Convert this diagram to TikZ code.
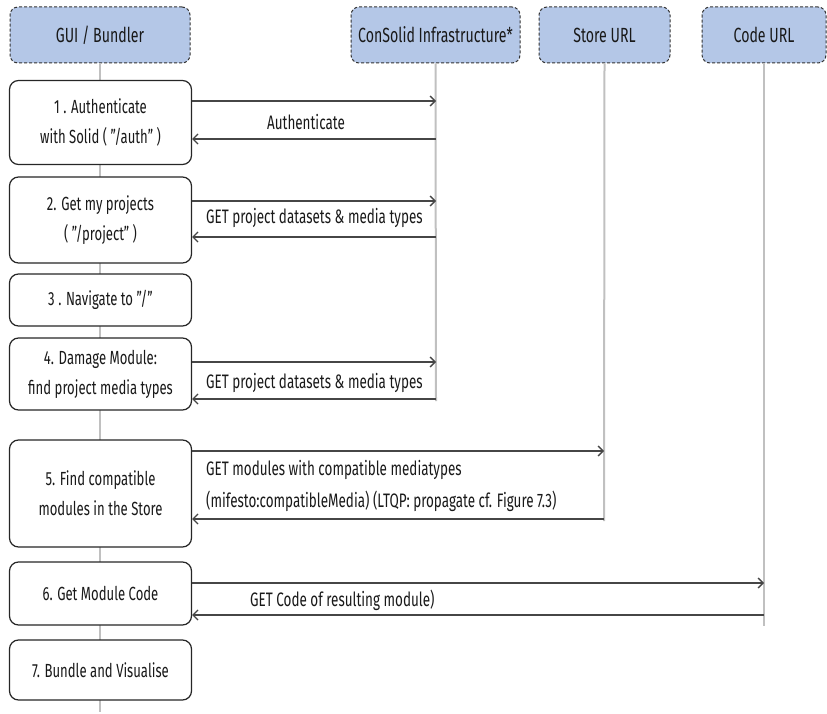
\documentclass[tikz,border=0pt]{standalone}
\usepackage{fontspec}
\setmainfont{Fira Sans}[FakeStretch=0.69]
\usetikzlibrary{arrows.meta}

\definecolor{hdrfill}{RGB}{180,199,231}
\definecolor{lifegray}{RGB}{192,192,192}
\definecolor{msgcol}{RGB}{70,70,70}
\definecolor{ink}{RGB}{25,25,25}

\tikzset{
  header/.style={draw=black!80, dash pattern=on 3pt off 2pt, fill=hdrfill,
    rounded corners=8pt, line width=1pt, minimum height=56pt, inner sep=0pt,
    text=ink, font=\fontsize{20.5}{22}\selectfont},
  stepbox/.style={draw=black!85, fill=white, rounded corners=9pt, line width=1.2pt,
    minimum width=182pt, inner sep=0pt, align=center, text=ink,
    font=\fontsize{19}{30}\selectfont},
  lifeline/.style={draw=lifegray, line width=2pt},
  msg/.style={draw=msgcol, line width=1.3pt, -{Straight Barb[length=5pt,width=10pt]}},
  msglabel/.style={inner sep=0pt, text=ink, align=left, font=\fontsize{19.5}{32}\selectfont}
}

\begin{document}
\begin{tikzpicture}[x=1pt, y=-1pt]
  \useasboundingbox (0,0) rectangle (827,714);

  % participants
  \node[header, minimum width=180pt] (gui)   at (100,35)   {GUI / Bundler};
  \node[header, minimum width=169pt] (infra) at (435.5,35) {ConSolid Infrastructure*};
  \node[header, minimum width=131pt] (store) at (604.5,35) {Store URL};
  \node[header, minimum width=124pt] (code)  at (764,35)   {Code URL};

  % lifeline ends
  \coordinate (guiEnd)   at (100,712);
  \coordinate (infraEnd) at (436,401);
  \coordinate (storeEnd) at (604,521);
  \coordinate (codeEnd)  at (764,626);

  \draw[lifeline] (gui.south)   -- (guiEnd);
  \draw[lifeline] (infra.south) -- (infraEnd);
  \draw[lifeline] (store.south) -- (storeEnd);
  \draw[lifeline] (code.south)  -- (codeEnd);

  % steps of the GUI / bundler
  \node[stepbox, minimum height=84pt]  (s1) at (100.5,122.5) {1 . Authenticate\\with Solid ( "/auth" )};
  \node[stepbox, minimum height=86pt]  (s2) at (100.5,220)   {2. Get my projects\\( "/project" )};
  \node[stepbox, minimum height=52pt]  (s3) at (100.5,300)   {3 . Navigate to "/"};
  \node[stepbox, minimum height=72pt]  (s4) at (100.5,374)   {4. Damage Module:\\find project media types};
  \node[stepbox, minimum height=107pt] (s5) at (100.5,493.5) {5. Find compatible\\modules in the Store};
  \node[stepbox, minimum height=63pt]  (s6) at (100.5,593.5) {6. Get Module Code};
  \node[stepbox, minimum height=60pt]  (s7) at (100.5,670)   {7. Bundle and Visualise};

  % message anchor points on the lifelines
  \coordinate (m1a) at (436,101);  \coordinate (m1b) at (436,139);
  \coordinate (m2a) at (436,201);  \coordinate (m2b) at (436,237);
  \coordinate (m4a) at (436,362);  \coordinate (m4b) at (436,399);
  \coordinate (m5a) at (604,451);  \coordinate (m5b) at (604,519);
  \coordinate (m6a) at (764,583);  \coordinate (m6b) at (764,615);

  % messages
  \draw[msg] (m1a -| s1.east) -- (m1a);
  \draw[msg] (m1b) -- (m1b -| s1.east);
  \draw[msg] (m2a -| s2.east) -- (m2a);
  \draw[msg] (m2b) -- (m2b -| s2.east);
  \draw[msg] (m4a -| s4.east) -- (m4a);
  \draw[msg] (m4b) -- (m4b -| s4.east);
  \draw[msg] (m5a -| s5.east) -- (m5a);
  \draw[msg] (m5b) -- (m5b -| s5.east);
  \draw[msg] (m6a -| s6.east) -- (m6a);
  \draw[msg] (m6b) -- (m6b -| s6.east);

  % message labels
  \node[msglabel] (l1) at (306,122) {Authenticate};
  \node[msglabel, anchor=west] (l2) at (206,218) {GET project datasets \& media types};
  \node[msglabel, anchor=west] (l4) at (206,383) {GET project datasets \& media types};
  \node[msglabel, anchor=west] (l5) at (206,485.5) {GET modules with compatible mediatypes\\(mifesto:compatibleMedia) (LTQP: propagate cf. Figure 7.3)};
  \node[msglabel, anchor=west] (l6) at (250,600) {GET Code of resulting module)};
\end{tikzpicture}
\end{document}
